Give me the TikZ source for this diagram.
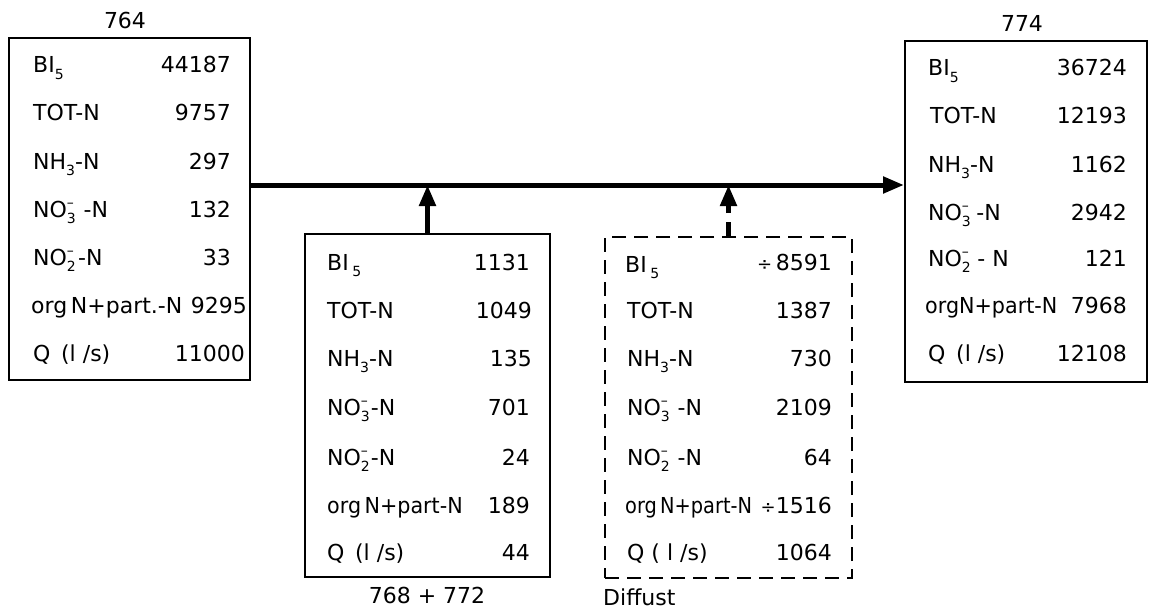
\documentclass[tikz,border=0pt]{standalone}
\usepackage{fontspec}
\setmainfont{DejaVu Sans}
\usetikzlibrary{arrows.meta}
\newcommand{\smallidx}[1]{{\fontsize{14}{14}\selectfont #1}}
\newcommand{\sbs}[1]{\raisebox{-0.3em}{\smallidx{#1}}}
\newcommand{\ionx}[1]{\makebox[0pt][l]{\raisebox{0.45em}{\smallidx{–}}}\raisebox{-0.3em}{\smallidx{#1}}}
\newcommand{\dvd}{{\fontsize{18}{18}\selectfont ÷}}
\begin{document}
\begin{tikzpicture}[x=1pt,y=-1pt,
  every node/.style={font=\fontsize{22}{24}\selectfont, inner sep=0pt},
  boxs/.style={draw, line width=2pt, rectangle, inner sep=0pt},
  dboxs/.style={boxs, dash pattern=on 14pt off 8pt},
  lab/.style={anchor=base west, yshift=-8pt},
  val/.style={anchor=base east, yshift=-8pt},
  ttl/.style={anchor=base, yshift=-8pt},
  flow/.style={line width=5pt, -{Triangle[length=21pt,width=16pt]}},
  dflow/.style={flow, dash pattern=on 14pt off 9pt}]
\useasboundingbox (0,0) rectangle (1149,610);
% boxes
\node[boxs, minimum width=241pt, minimum height=342pt] (L) at (129.5,209) {};
\node[boxs, minimum width=245pt, minimum height=343pt] (M) at (427.5,405.5) {};
\node[dboxs, minimum width=247pt, minimum height=341pt] (D) at (728.5,407.5) {};
\node[boxs, minimum width=242pt, minimum height=341pt] (R) at (1026,211.5) {};
\coordinate (mainy) at (0,185);
% titles
\node[ttl] (tL) at (125,21) {764};
\node[ttl] (tR) at (1022,24) {774};
\node[ttl] (tM) at (427,595) {768 + 772};
\node[lab] (tD) at (603,597) {Diffust};
% connectors
\draw[flow] (L.east |- mainy) -- (R.west |- mainy);
\draw[flow] (M.north) -- (M.north |- mainy);
\draw[dflow] (D.north) -- (D.north |- mainy);
% left box rows
\node[lab] (L1) at (33,65) {BI\sbs{5}};
\node[val] (L1v) at (231,65) {44187};
\node[lab] (L2) at (33,113) {TOT-N};
\node[val] (L2v) at (231,113) {9757};
\node[lab] (L3) at (33,161) {NH\sbs{3}-N};
\node[val] (L3v) at (231,161) {297};
\node[lab] (L4) at (33,209) {NO\ionx{3}\hspace{0.35em}-N};
\node[val] (L4v) at (231,209) {132};
\node[lab] (L5) at (33,257) {NO\ionx{2}\hspace{0.1em}-N};
\node[val] (L5v) at (231,257) {33};
\node[lab] (L6) at (31,305) {org\,N+part.-N};
\node[val] (L6v) at (247,305) {9295};
\node[lab] (L7) at (33,353) {Q\, (l /s)};
\node[val] (L7v) at (245,353) {11000};
% middle box rows
\node[lab] (M1) at (327,262) {BI\,\sbs{5}};
\node[val] (M1v) at (530,262) {1131};
\node[lab] (M2) at (327,310) {TOT-N};
\node[val] (M2v) at (532,310) {1049};
\node[lab] (M3) at (327,358) {NH\sbs{3}-N};
\node[val] (M3v) at (532,358) {135};
\node[lab] (M4) at (327,407) {NO\ionx{3}\hspace{0.05em}-N};
\node[val] (M4v) at (530,407) {701};
\node[lab] (M5) at (327,457) {NO\ionx{2}\hspace{0.05em}-N};
\node[val] (M5v) at (530,457) {24};
\node[lab] (M6) at (327,505) {\scalebox{0.94}[1]{org\,N+part-N}};
\node[val] (M6v) at (530,505) {189};
\node[lab] (M7) at (327,552) {Q\, (l /s)};
\node[val] (M7v) at (530,552) {44};
% dashed box rows
\node[lab] (D1) at (625,264) {BI\,\sbs{5}};
\node[val] (D1v) at (832,262) {\dvd\,8591};
\node[lab] (D2) at (627,310) {TOT-N};
\node[val] (D2v) at (832,310) {1387};
\node[lab] (D3) at (627,358) {NH\sbs{3}-N};
\node[val] (D3v) at (832,358) {730};
\node[lab] (D4) at (627,407) {NO\ionx{3}\hspace{0.35em}-N};
\node[val] (D4v) at (832,407) {2109};
\node[lab] (D5) at (627,457) {NO\ionx{2}\hspace{0.35em}-N};
\node[val] (D5v) at (832,457) {64};
\node[lab] (D6) at (625,505) {\scalebox{0.88}[1]{org\,N+part-N}};
\node[val] (D6v) at (832,505) {\dvd 1516};
\node[lab] (D7) at (627,552) {Q ( l /s)};
\node[val] (D7v) at (832,552) {1064};
% right box rows
\node[lab] (R1) at (928,68) {BI\sbs{5}};
\node[val] (R1v) at (1127,68) {36724};
\node[lab] (R2) at (930,116) {TOT-N};
\node[val] (R2v) at (1127,116) {12193};
\node[lab] (R3) at (928,164) {NH\sbs{3}-N};
\node[val] (R3v) at (1127,164) {1162};
\node[lab] (R4) at (928,212) {NO\ionx{3}\hspace{0.25em}-N};
\node[val] (R4v) at (1127,212) {2942};
\node[lab] (R5) at (928,258) {NO\ionx{2}\hspace{0.3em}- N};
\node[val] (R5v) at (1127,258) {121};
\node[lab] (R6) at (925,305) {\scalebox{0.94}[1]{orgN+part-N}};
\node[val] (R6v) at (1127,305) {7968};
\node[lab] (R7) at (928,353) {Q\, (l /s)};
\node[val] (R7v) at (1127,353) {12108};
\end{tikzpicture}
\end{document}
